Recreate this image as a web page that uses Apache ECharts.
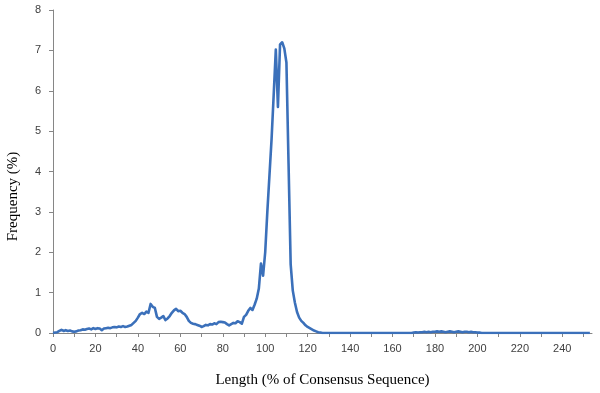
<!DOCTYPE html>
<html>
<head>
<meta charset="utf-8">
<script src="https://cdn.jsdelivr.net/npm/echarts@6/dist/echarts.min.js"></script>
<style>
html,body{margin:0;padding:0;background:#fff;}
#chart{width:600px;height:393px;}
</style>
</head>
<body>
<div id="chart"></div>
<script>
// Frequency (%) for each length (% of consensus sequence), lengths 0..253
const frequency = [
  // 0-9
  0, 0.01, 0.02, 0.05, 0.08, 0.05, 0.07, 0.05, 0.06, 0.04,
  // 10-19
  0.03, 0.04, 0.06, 0.07, 0.09, 0.08, 0.10, 0.11, 0.09, 0.12,
  // 20-29
  0.10, 0.12, 0.11, 0.07, 0.11, 0.12, 0.13, 0.12, 0.14, 0.15,
  // 30-39
  0.14, 0.16, 0.15, 0.17, 0.15, 0.16, 0.18, 0.20, 0.25, 0.30,
  // 40-49
  0.38, 0.47, 0.50, 0.47, 0.53, 0.50, 0.72, 0.65, 0.62, 0.40,
  // 50-59
  0.35, 0.38, 0.42, 0.32, 0.36, 0.42, 0.50, 0.56, 0.60, 0.54,
  // 60-69
  0.55, 0.50, 0.47, 0.40, 0.30, 0.25, 0.23, 0.22, 0.20, 0.18,
  // 70-79
  0.15, 0.17, 0.20, 0.19, 0.22, 0.21, 0.24, 0.22, 0.27, 0.28,
  // 80-89
  0.27, 0.26, 0.22, 0.19, 0.22, 0.25, 0.24, 0.29, 0.27, 0.23,
  // 90-99
  0.40, 0.45, 0.55, 0.62, 0.57, 0.70, 0.85, 1.10, 1.72, 1.42,
  // 100-109
  2.00, 3.00, 3.90, 4.80, 5.90, 7.02, 5.60, 7.15, 7.20, 7.05,
  // 110-119
  6.70, 4.20, 1.70, 1.05, 0.75, 0.52, 0.38, 0.30, 0.25, 0.19,
  // 120-129
  0.15, 0.12, 0.09, 0.06, 0.04, 0.02, 0.01, 0, 0, 0,
  // 130-169
  0, 0, 0, 0, 0, 0, 0, 0, 0, 0,
  0, 0, 0, 0, 0, 0, 0, 0, 0, 0,
  0, 0, 0, 0, 0, 0, 0, 0, 0, 0,
  0, 0, 0, 0, 0, 0, 0, 0, 0, 0,
  // 170-201
  0.01, 0.02, 0.01, 0.02, 0.02, 0.03, 0.02, 0.03, 0.02, 0.03,
  0.03, 0.04, 0.03, 0.04, 0.03, 0.02, 0.03, 0.04, 0.03, 0.02,
  0.03, 0.04, 0.03, 0.02, 0.03, 0.03, 0.02, 0.03, 0.02, 0.02,
  0.01, 0.01,
  // 202-253
  0, 0, 0, 0, 0, 0, 0, 0, 0, 0,
  0, 0, 0, 0, 0, 0, 0, 0, 0, 0,
  0, 0, 0, 0, 0, 0, 0, 0, 0, 0,
  0, 0, 0, 0, 0, 0, 0, 0, 0, 0,
  0, 0, 0, 0, 0, 0, 0, 0, 0, 0,
  0, 0
];
const xTickLabels = [0, 20, 40, 60, 80, 100, 120, 140, 160, 180, 200, 220, 240];
const yTickLabels = [0, 1, 2, 3, 4, 5, 6, 7, 8];
const xTitle = 'Length (% of Consensus Sequence)';
const yTitle = 'Frequency (%)';

const seriesData = frequency.map((v, i) => [i, v]);

const chart = echarts.init(document.getElementById('chart'), null, {renderer: 'canvas'});
const axisGray = '#868686';
chart.setOption({
  animation: false,
  backgroundColor: '#ffffff',
  grid: {left: 53, right: 8, top: 10, bottom: 58, containLabel: false},
  graphic: [{
    type: 'text',
    left: 6,
    top: 'middle',
    rotation: Math.PI / 2,
    x: 0,
    y: 0,
    style: {
      text: yTitle,
      fontFamily: 'Liberation Serif',
      fontSize: 15,
      fill: '#000'
    },
    position: [15, 198],
    originX: 0,
    originY: 0
  }],
  xAxis: {
    type: 'value',
    min: 0,
    max: 254,
    interval: 10,
    name: xTitle,
    nameLocation: 'middle',
    nameGap: 40,
    nameTextStyle: {fontFamily: 'Liberation Serif', fontSize: 15, color: '#000'},
    axisLine: {show: true, lineStyle: {color: axisGray, width: 1}},
    axisTick: {show: true, length: 4, lineStyle: {color: axisGray}},
    splitLine: {show: false},
    axisLabel: {
      fontFamily: 'Liberation Sans',
      fontSize: 11,
      color: '#404040',
      margin: 10,
      showMaxLabel: false,
      formatter: v => xTickLabels.includes(v) ? String(v) : ''
    }
  },
  yAxis: {
    type: 'value',
    min: 0,
    max: 8,
    interval: 1,
    axisLine: {show: true, lineStyle: {color: axisGray, width: 1}},
    axisTick: {show: true, length: 4, lineStyle: {color: axisGray}},
    splitLine: {show: false},
    axisLabel: {
      fontFamily: 'Liberation Sans',
      fontSize: 11,
      color: '#404040',
      margin: 12,
      formatter: v => yTickLabels.includes(v) ? String(v) : ''
    }
  },
  series: [{
    type: 'line',
    data: seriesData,
    showSymbol: false,
    smooth: false,
    lineStyle: {color: '#3b70ba', width: 2.6, join: 'round'},
    itemStyle: {color: '#3b70ba'}
  }]
});
</script>
</body>
</html>
